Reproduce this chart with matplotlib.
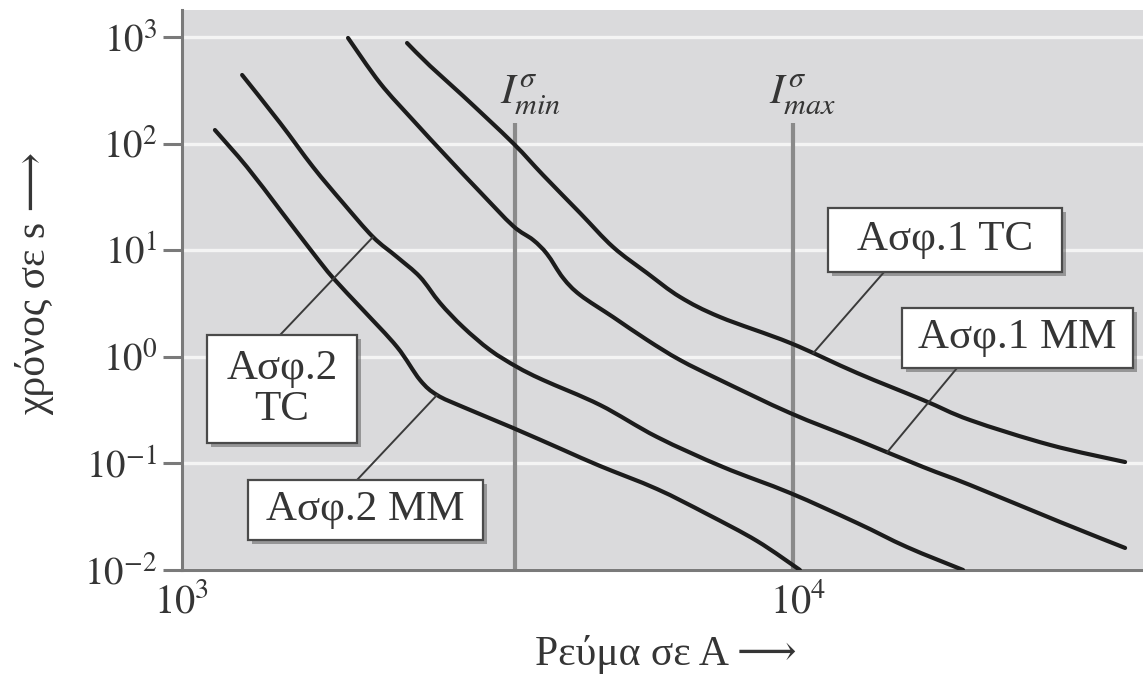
import numpy as np
import matplotlib
matplotlib.use("Agg")
import matplotlib.pyplot as plt
from matplotlib.patches import Rectangle, PathPatch
from matplotlib.path import Path
from matplotlib.ticker import NullLocator
import matplotlib.patheffects as pe

plt.rcParams['font.family'] = ['Liberation Serif', 'DejaVu Serif', 'DejaVu Sans']
plt.rcParams['mathtext.fontset'] = 'stix'

# ---------------- data (current in A, time in s) ----------------
fuse1_tc_I = [2319, 2527, 2859, 3446, 3855, 4428, 5009, 5686, 6432, 7470,
              9705, 12470, 15960, 19020, 25650, 33950]
fuse1_tc_t = [878, 535, 280, 101, 50.7, 22.3, 10.7, 6.11, 3.64, 2.36,
              1.35, 0.705, 0.393, 0.255, 0.149, 0.103]

fuse1_mm_I = [1860, 2096, 2371, 2693, 3046, 3446, 3713, 3913, 4155, 4428,
              5009, 5686, 6432, 7470, 9705, 12470, 15960, 19020, 26630, 33950]
fuse1_mm_t = [979, 370, 166, 74.8, 35.2, 16.9, 12.5, 9.21, 5.49, 3.80,
              2.36, 1.44, 0.933, 0.606, 0.297, 0.166, 0.0925, 0.0627, 0.0282, 0.0161]

fuse2_tc_I = [1252, 1443, 1632, 1826, 2042, 2234, 2434, 2623, 2859, 3162,
              3499, 3855, 4771, 5902, 7553, 9705, 12470, 15030, 18530]
fuse2_tc_t = [440, 156, 60.3, 27.7, 13.3, 8.63, 5.61, 3.20, 1.90, 1.158,
              0.802, 0.606, 0.353, 0.177, 0.0925, 0.0528, 0.0276, 0.0164, 0.0100]

fuse2_mm_I = [1131, 1275, 1443, 1632, 1759, 1967, 2234, 2434, 2594, 2859,
              3446, 4155, 4771, 5902, 7116, 8579, 10070]
fuse2_mm_t = [134, 60.3, 23.8, 9.41, 5.49, 2.75, 1.236, 0.606, 0.438, 0.338,
              0.215, 0.134, 0.0945, 0.0575, 0.0335, 0.0187, 0.0100]

i_min = 3470
i_max = 9800
vline_top_t = 156

curve_labels = ['Ασφ.1 TC', 'Ασφ.1 MM', 'Ασφ.2\nTC', 'Ασφ.2 MM']
leader_I = [10580, 13950, 2042, 2594]

x_ticks = [1e3, 1e4]
x_tick_labels = [r'$10^{3}$', r'$10^{4}$']
y_ticks = [1e-2, 1e-1, 1e0, 1e1, 1e2, 1e3]
y_tick_labels = [r'$10^{-2}$', r'$10^{-1}$', r'$10^{0}$', r'$10^{1}$', r'$10^{2}$', r'$10^{3}$']

x_label = 'Ρεύμα σε A ⟶'
y_label = 'χρόνος σε s ⟶'

TXT = '#353535'


def smooth_path(I, t):
    """Smooth curve (Bezier segments) through the read points, in log-log space."""
    u = np.log10(np.asarray(I, float))
    v = np.log10(np.asarray(t, float))
    P = np.column_stack([u, v])
    n = len(P)
    verts = [P[0]]
    codes = [Path.MOVETO]
    for i in range(n - 1):
        p0 = P[i - 1] if i > 0 else P[i]
        p1 = P[i]
        p2 = P[i + 1]
        p3 = P[i + 2] if i + 2 < n else P[i + 1]
        c1 = p1 + (p2 - p0) / 6.0
        c2 = p2 - (p3 - p1) / 6.0
        verts += [c1, c2, p2]
        codes += [Path.CURVE4] * 3
    verts = 10 ** np.array(verts)
    return Path(verts, codes)


# ---------------- figure ----------------
W, H = 1143, 678
fig = plt.figure(figsize=(W / 100, H / 100), dpi=100)
fig.patch.set_facecolor('white')
ax = fig.add_axes([182 / W, 108 / H, 961 / W, 560 / H])
ax.set_xscale('log')
ax.set_yscale('log')
ax.set_xlim(1000, 36300)
ax.set_ylim(0.01, 1791)
ax.set_facecolor('#dadadc')

for s in ['top', 'right']:
    ax.spines[s].set_visible(False)
for s in ['left', 'bottom']:
    ax.spines[s].set_color('#7a7a7a')
    ax.spines[s].set_linewidth(2.2)

ax.set_xticks(x_ticks)
ax.set_xticklabels(x_tick_labels)
ax.set_yticks(y_ticks)
ax.set_yticklabels(y_tick_labels)
ax.xaxis.set_minor_locator(NullLocator())
ax.yaxis.set_minor_locator(NullLocator())
ax.tick_params(axis='y', which='major', length=14, width=2.2, color='#7a7a7a',
               labelsize=28, pad=4, labelcolor=TXT)
ax.tick_params(axis='x', which='major', length=0, labelsize=29, pad=10,
               labelcolor=TXT)

ax.set_axisbelow(True)
ax.yaxis.grid(True, color='#f4f4f4', lw=2.4)
ax.xaxis.grid(False)

# vertical I_min / I_max lines
ax.vlines([i_min, i_max], 0.01, vline_top_t, colors='#8a8a8a', lw=3, zorder=2)
ax.annotate(r'$I^{\sigma}_{min}$', xy=(i_min, vline_top_t), xytext=(-11, 4),
            textcoords='offset points', ha='left', va='bottom', fontsize=31,
            color=TXT)
ax.annotate(r'$I^{\sigma}_{max}$', xy=(i_max, vline_top_t), xytext=(-17, 4),
            textcoords='offset points', ha='left', va='bottom', fontsize=31,
            color=TXT)

# curves
curves = [(fuse1_tc_I, fuse1_tc_t), (fuse1_mm_I, fuse1_mm_t),
          (fuse2_tc_I, fuse2_tc_t), (fuse2_mm_I, fuse2_mm_t)]
for I, t in curves:
    ax.add_patch(PathPatch(smooth_path(I, t), fill=False, ec='#1c1c1c', lw=3,
                           capstyle='round', joinstyle='round', zorder=3))

# label boxes (axes fraction) and leader starts
boxes = [(0.6722, 0.5321, 0.2435, 0.1143),
         (0.7492, 0.3607, 0.2404, 0.1071),
         (0.0260, 0.2268, 0.1561, 0.1929),
         (0.0687, 0.0536, 0.2445, 0.1071)]
leader_start = [(0.7315, 0.5339), (0.8065, 0.3607), (0.1020, 0.4196), (0.1821, 0.1607)]

for (I, t), lab, li, box, ls in zip(curves, curve_labels, leader_I, boxes, leader_start):
    lt = 10 ** np.interp(np.log10(li), np.log10(I), np.log10(t))
    ax.annotate('', xy=(li, lt), xycoords='data', xytext=ls, textcoords='axes fraction',
                arrowprops=dict(arrowstyle='-', color='#3a3a3a', lw=1.4,
                                shrinkA=0, shrinkB=0), zorder=4)
    x0, y0, w, h = box
    rect = Rectangle((x0, y0), w, h, transform=ax.transAxes, fc='white',
                     ec='#4a4a4a', lw=1.6, zorder=5,
                     path_effects=[pe.SimplePatchShadow(offset=(3, -3),
                                                        shadow_rgbFace='#444444',
                                                        alpha=0.45),
                                   pe.Normal()])
    ax.add_patch(rect)
    ax.text(x0 + w / 2, y0 + h / 2, lab, transform=ax.transAxes, ha='center',
            va='center', fontsize=31, color=TXT, zorder=6,
            linespacing=1.1)

fig.text(666 / W, 1 - 655 / H, x_label, ha='center', va='center', fontsize=30,
         color=TXT)
fig.text(35 / W, 1 - 283 / H, y_label, ha='center', va='center', fontsize=30,
         rotation=90, color=TXT)

fig.savefig('out.png', dpi=100)
